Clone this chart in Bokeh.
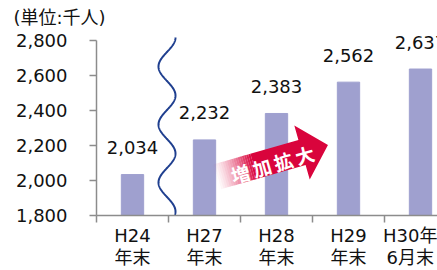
import numpy as np
from bokeh.plotting import figure
from bokeh.models import FixedTicker, Range1d
from bokeh.core.properties import value
from bokeh.embed import file_html
from bokeh.resources import INLINE

# ---- data ----
categories = ["H24\n年末", "H27\n年末", "H28\n年末", "H29\n年末", "H30年\n6月末"]
values = [2034, 2232, 2383, 2562, 2637]
value_labels = ["2,034", "2,232", "2,383", "2,562", "2,637"]
y_ticks = [1800, 2000, 2200, 2400, 2600, 2800]
y_tick_labels = ["1,800", "2,000", "2,200", "2,400", "2,600", "2,800"]
unit_label = "(単位:千人)"
arrow_text = "増加拡大"

# ---- layout / style ----
FONT = "DejaVu Sans, Noto Sans CJK JP"
CJK = "Noto Sans CJK JP"
BAR = "#9fa0cf"
AXIS = "#8c8c8c"
TXT = "#111111"
RED = "#d9043c"
WAVE = "#1f3f8f"

PX_PER_CAT = 72.0
PX_PER_UNIT = 0.175          # vertical pixels per thousand-person unit
EXTRA_TOP = 10               # px of headroom above the top tick
FRAME_W = 341
FRAME_H = int(round(1000 * PX_PER_UNIT + EXTRA_TOP))
X_END = FRAME_W / PX_PER_CAT
Y0, Y_TOP_TICK = 1800, 2800
Y1 = Y_TOP_TICK + EXTRA_TOP / PX_PER_UNIT
px_x = PX_PER_CAT
px_y = PX_PER_UNIT

p = figure(frame_width=FRAME_W, frame_height=FRAME_H,
           x_range=Range1d(0, X_END), y_range=Range1d(Y0, Y1),
           output_backend="svg", toolbar_location=None,
           min_border_left=96, min_border_right=0, min_border_top=30,
           min_border_bottom=55)
p.outline_line_color = None
p.grid.visible = False
p.background_fill_color = "white"
p.border_fill_color = "white"

p.title.text = unit_label
p.title.align = "left"
p.title.offset = -83
p.title.standoff = 6
p.title.text_font = FONT
p.title.text_font_size = "18px"
p.title.text_font_style = "normal"
p.title.text_color = TXT

centers = [i + 0.5 for i in range(len(categories))]

p.vbar(x=centers, top=values, bottom=Y0, width=0.31, color=BAR)
p.text(x=centers, y=values, text=value_labels, text_align="center",
       text_baseline="alphabetic", y_offset=-27,
       text_font=value(FONT), text_font_size="18px", text_color=TXT)

# axis break wave
ts = np.linspace(0, 178, 400)
wave_y = Y_TOP_TICK + 3 / px_y - ts / px_y
wave_x = 1.0 + (8.5 * np.cos(2 * np.pi * ts / 58) - 1.5) / px_x
p.line(wave_x, wave_y, line_color=WAVE, line_width=2)

# arrow (geometry in pixels, converted to data)
tail = (119.0, 38.2)       # px from frame bottom-left
ang = np.deg2rad(16)
u = np.array([np.cos(ang), np.sin(ang)])
n = np.array([-np.sin(ang), np.cos(ang)])
t0 = np.array(tail)
SHAFT, HEAD, SW, HW, FADE = 90.0, 27.0, 13.0, 28.0, 40.0

def to_data(pts):
    pts = np.array(pts)
    return list(pts[:, 0] / px_x), list(Y0 + pts[:, 1] / px_y)

xs_list, ys_list, alphas = [], [], []
N = 18
for k in range(N):
    s0 = FADE * k / N
    s1 = FADE * (k + 1) / N
    poly = [t0 + u * s0 - n * SW, t0 + u * s1 - n * SW,
            t0 + u * s1 + n * SW, t0 + u * s0 + n * SW]
    xx, yy = to_data(poly)
    xs_list.append(xx); ys_list.append(yy)
    alphas.append(((k + 0.5) / N) ** 1.3)
body = [t0 + u * FADE - n * SW, t0 + u * SHAFT - n * SW, t0 + u * SHAFT - n * HW,
        t0 + u * (SHAFT + HEAD), t0 + u * SHAFT + n * HW, t0 + u * SHAFT + n * SW,
        t0 + u * FADE + n * SW]
xx, yy = to_data(body)
xs_list.append(xx); ys_list.append(yy); alphas.append(1.0)
p.patches(xs_list, ys_list, fill_color=RED, fill_alpha=alphas, line_color=None)

chars = list(arrow_text)
cx, cy = [], []
for i, ch in enumerate(chars):
    pt = t0 + u * (25 + 22.3 * i) - n * 2.7
    cx.append(pt[0] / px_x); cy.append(Y0 + pt[1] / px_y)
p.text(x=cx, y=cy, text=chars, angle=ang, text_align="center", text_baseline="middle",
       text_font=value(CJK), text_font_size="19px", text_font_style="bold",
       text_color="white")

# axes
xa = p.xaxis[0]
xa.ticker = FixedTicker(ticks=centers, minor_ticks=[0, 1, 2, 3, 4, 5])
xa.major_label_overrides = {c: lab for c, lab in zip(centers, categories)}
xa.major_tick_line_color = None
xa.major_tick_out = 0
xa.major_tick_in = 0
xa.minor_tick_out = 7
xa.minor_tick_in = 0
xa.minor_tick_line_color = AXIS
xa.minor_tick_line_width = 1.5
xa.axis_line_color = AXIS
xa.axis_line_width = 1.5
xa.major_label_standoff = 2
xa.major_label_text_font = FONT
xa.major_label_text_font_size = "18px"
xa.major_label_text_line_height = 1.05
xa.major_label_text_color = TXT

ya = p.yaxis[0]
ya.ticker = FixedTicker(ticks=y_ticks, minor_ticks=[])
ya.major_label_overrides = {t: lab for t, lab in zip(y_ticks, y_tick_labels)}
ya.bounds = (Y0, Y_TOP_TICK)
ya.major_tick_out = 7
ya.major_tick_in = 0
ya.major_tick_line_color = AXIS
ya.major_tick_line_width = 1.5
ya.minor_tick_line_color = None
ya.axis_line_color = AXIS
ya.axis_line_width = 1.5
ya.major_label_standoff = 22
ya.major_label_text_font = FONT
ya.major_label_text_font_size = "18px"
ya.major_label_text_color = TXT

open("out.html", "w").write(file_html(p, INLINE))
